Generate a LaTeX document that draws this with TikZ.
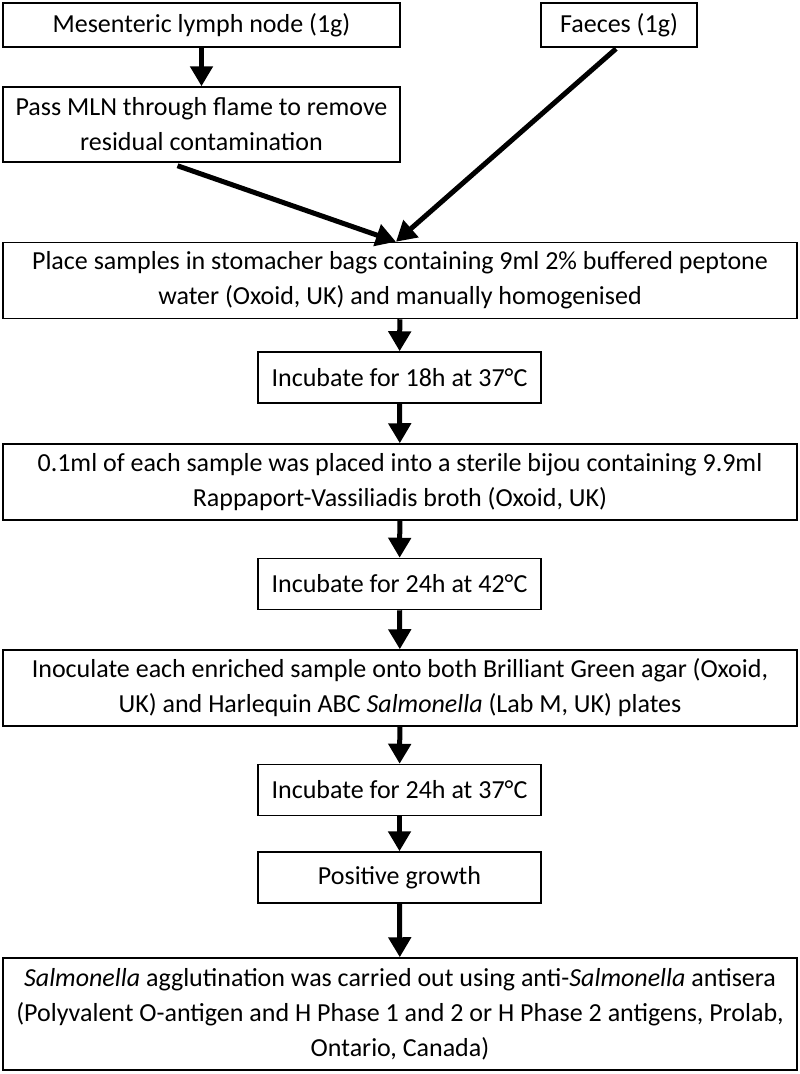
\documentclass[tikz,border=0pt]{standalone}
\usepackage{fontspec}
\setmainfont{Carlito}
\usepackage{tikz}
\usetikzlibrary{arrows.meta, positioning, calc}
\tikzset{
    % Boxes
    stepBox/.style={rectangle, draw=black, line width=1.5pt, fill=white, align=center,
        inner sep=0pt, font=\fontsize{26}{35}\selectfont},
    wideBox/.style={stepBox, minimum width=794pt, minimum height=76pt},
    narrowBox/.style={stepBox, minimum width=283pt, minimum height=51pt},
    % Arrows
    arrowFlow/.style={-{Triangle[width=22pt,length=20pt]}, line width=5pt, draw=black}
}
\begin{document}
\begin{tikzpicture}[x=1pt, y=-1pt]
    \useasboundingbox (0,0) rectangle (800,1074);
    % top row
    \node[stepBox, minimum width=397pt, minimum height=44pt] (mln) at (201.5,25) {Mesenteric lymph node (1g)};
    \node[stepBox, minimum width=156pt, minimum height=44pt] (faeces) at (619,25) {Faeces (1g)};
    \node[stepBox, minimum width=397pt, minimum height=75pt] (flame) at (201.5,124.5) {Pass MLN through flame to remove\\residual contamination};
    % main column
    \node[wideBox] (bags) at (400,280.5) {Place samples in stomacher bags containing 9ml 2\% buffered peptone\\water (Oxoid, UK) and manually homogenised};
    \node[narrowBox] (inc1) at (399.5,377.5) {Incubate for 18h at 37°C};
    \node[wideBox] (bijou) at (400,482) {0.1ml of each sample was placed into a sterile bijou containing 9.9ml\\Rappaport-Vassiliadis broth (Oxoid, UK)};
    \node[narrowBox] (inc2) at (399.5,584) {Incubate for 24h at 42°C};
    \node[wideBox] (agar) at (400,688) {Inoculate each enriched sample onto both Brilliant Green agar (Oxoid,\\UK) and Harlequin ABC \textit{Salmonella} (Lab M, UK) plates};
    \node[narrowBox] (inc3) at (399.5,790) {Incubate for 24h at 37°C};
    \node[narrowBox] (growth) at (399.5,877.5) {Positive growth};
    \node[wideBox, minimum height=112pt] (aggl) at (400,1014) {\textit{Salmonella} agglutination was carried out using anti-\textit{Salmonella} antisera\\(Polyvalent O-antigen and H Phase 1 and 2 or H Phase 2 antigens, Prolab,\\Ontario, Canada)};
    % connectors
    \coordinate (flameOut) at ($(flame.south)+(-24,3)$);
    \coordinate (faecesOut) at ($(faeces.south)+(-3,1)$);
    \coordinate (bagsIn) at ($(bags.north)+(-4,0)$);
    \draw[arrowFlow] (mln) -- (flame);
    \draw[arrowFlow] (flameOut) -- (bagsIn);
    \draw[arrowFlow] (faecesOut) -- (bagsIn);
    \draw[arrowFlow] (bags) -- (inc1);
    \draw[arrowFlow] (inc1) -- (bijou);
    \draw[arrowFlow] (bijou) -- (inc2);
    \draw[arrowFlow] (inc2) -- (agar);
    \draw[arrowFlow] (agar) -- (inc3);
    \draw[arrowFlow] (inc3) -- (growth);
    \draw[arrowFlow] (growth) -- (aggl);
\end{tikzpicture}
\end{document}
